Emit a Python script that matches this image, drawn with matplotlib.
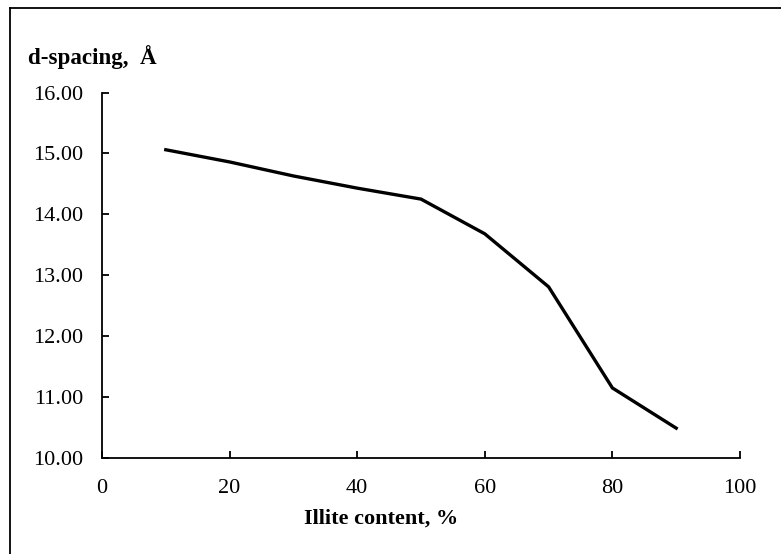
import matplotlib
matplotlib.use("Agg")
import matplotlib.pyplot as plt
from matplotlib.lines import Line2D

# Illite content (%) vs basal d-spacing (Å)
illite_pct = [10, 20, 30, 40, 50, 60, 70, 80, 90]
d_spacing = [15.06, 14.86, 14.63, 14.43, 14.25, 13.68, 12.81, 11.15, 10.49]

x_ticks = [0, 20, 40, 60, 80, 100]
y_ticks = [10, 11, 12, 13, 14, 15, 16]

plt.rcParams['font.family'] = ['Liberation Serif', 'DejaVu Serif']

W, H = 781, 554
fig = plt.figure(figsize=(W / 100, H / 100), dpi=100)
ax = fig.add_axes([102 / W, 1 - 458 / H, (740 - 102) / W, (458 - 92.5) / H])

ax.plot(illite_pct, d_spacing, color='black', linewidth=2.4, solid_joinstyle='miter')

ax.set_xlim(0, 100)
ax.set_ylim(10, 16)
ax.set_xticks(x_ticks)
ax.set_yticks(y_ticks)
ax.set_yticklabels([f"{v:.2f}" for v in y_ticks])
ax.tick_params(direction='in', length=5, width=1.3, labelsize=16, colors='black')
ax.tick_params(axis='y', pad=13.5)
ax.tick_params(axis='x', pad=15)
for side in ('top', 'right'):
    ax.spines[side].set_visible(False)
for side in ('left', 'bottom'):
    ax.spines[side].set_linewidth(1.3)

fig.text(28 / W, 1 - 57.5 / H, "d-spacing,  Å", fontsize=16.6, fontweight='bold',
         ha='left', va='center')
fig.text(381 / W, 1 - 519 / H, "Illite content, %", fontsize=16, fontweight='bold',
         ha='center', va='center')

# outer frame (left and top edges)
fig.add_artist(Line2D([10 / W, 10 / W], [0, 1 - 8 / H], transform=fig.transFigure,
                      color='black', linewidth=1.3))
fig.add_artist(Line2D([10 / W, 1], [1 - 8 / H, 1 - 8 / H], transform=fig.transFigure,
                      color='black', linewidth=1.3))

fig.savefig("out.png", dpi=100)
